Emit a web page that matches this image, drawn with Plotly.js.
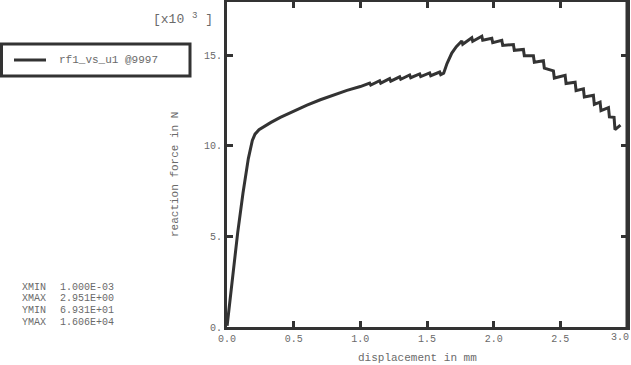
<!DOCTYPE html>
<html>
<head>
<meta charset="utf-8">
<script src="https://cdn.plot.ly/plotly-3.0.1.min.js"></script>
<style>
html,body{margin:0;padding:0;background:#fff;}
#chart{width:631px;height:365px;}
</style>
</head>
<body>
<div id="chart"></div>
<script>
// displacement (mm)
var displacement = [0.001, 0.04, 0.08, 0.12, 0.16, 0.19, 0.21, 0.24, 0.28, 0.33, 0.40, 0.50, 0.60, 0.70, 0.80, 0.90, 1.00, 1.05,
  1.07, 1.078, 1.145, 1.153, 1.22, 1.228, 1.295, 1.303, 1.37, 1.378, 1.445, 1.453, 1.52, 1.528, 1.595, 1.603,
  1.625, 1.65, 1.686, 1.72,
  1.761, 1.768, 1.836, 1.843, 1.911, 1.918, 1.986, 1.993, 2.061, 2.068, 2.148, 2.155, 2.223, 2.230,
  2.298, 2.305, 2.373, 2.380, 2.448, 2.455, 2.536, 2.543, 2.611, 2.618, 2.673, 2.680, 2.748, 2.755,
  2.798, 2.805, 2.861, 2.868, 2.903, 2.910, 2.951];
// reaction force (x10^3 N)
var reactionForce = [0.069, 2.6, 5.2, 7.4, 9.3, 10.3, 10.65, 10.9, 11.1, 11.3, 11.58, 11.93, 12.25, 12.55, 12.82, 13.07, 13.28, 13.40,
  13.47, 13.36, 13.60, 13.47, 13.72, 13.58, 13.82, 13.68, 13.92, 13.77, 13.98, 13.83, 14.03, 13.88, 14.08, 13.94,
  14.02, 14.55, 15.13, 15.48,
  15.80, 15.62, 15.98, 15.78, 16.06, 15.84, 15.95, 15.70, 15.83, 15.55, 15.60, 15.28, 15.33, 14.98,
  14.98, 14.62, 14.70, 14.30, 14.15, 13.75, 13.90, 13.45, 13.52, 13.05, 13.15, 12.70, 12.80, 12.30,
  12.42, 11.95, 12.12, 11.60, 11.58, 10.90, 11.15];

var xTickVals = [0, 0.5, 1.0, 1.5, 2.0, 2.5, 3.0];
var xTickText = ["0.0", "0.5", "1.0", "1.5", "2.0", "2.5", "3.0"];
var yTickVals = [0, 5, 10, 15];
var yTickText = ["0.", "5.", "10.", "15."];

var legendLabel = "rf1_vs_u1 @9997";
var statLabels = ["XMIN", "XMAX", "YMIN", "YMAX"];
var statValues = ["1.000E-03", "2.951E+00", "6.931E+01", "1.606E+04"];

var W = 631, H = 365, L = 227, R = 4, T = 2, B = 38;
var pw = W - L - R, ph = H - T - B;
function px(x){ return (x - L) / pw; }
function py(y){ return (H - B - y) / ph; }

var mono = "Liberation Mono, Courier New, monospace";
var txtColor = "#6a6a6a";
var dark = "#333333";

var trace = {
  x: displacement, y: reactionForce, type: "scatter", mode: "lines",
  line: {color: dark, width: 3}, showlegend: false, hoverinfo: "skip"
};

// the last x tick label sits at the right edge of the page; draw it as an annotation on the axis
var lastIdx = xTickVals.length - 1;
var axisTickText = xTickText.slice(0, lastIdx);
var axisTickVals = xTickVals.slice(0, lastIdx);

var annotations = [
  {xref:"x", yref:"paper", x:xTickVals[lastIdx], y:0, xanchor:"right", yanchor:"top", yshift:-3, xshift:4,
   showarrow:false, text:xTickText[lastIdx], font:{family:mono, size:10, color:txtColor}},
  {xref:"paper", yref:"paper", x:px(151), y:py(19), xanchor:"left", yanchor:"middle", showarrow:false,
   text:"[x10 <sup>3</sup> ]", font:{family:mono, size:13, color:txtColor}},
  {xref:"paper", yref:"paper", x:px(57), y:py(60), xanchor:"left", yanchor:"middle", showarrow:false,
   text:legendLabel, font:{family:mono, size:11, color:txtColor}},
  {xref:"paper", yref:"paper", x:px(417), y:py(358), xanchor:"center", yanchor:"middle", showarrow:false,
   text:"displacement in mm", font:{family:mono, size:11, color:txtColor}},
  {xref:"paper", yref:"paper", x:px(175), y:py(175), xanchor:"center", yanchor:"middle", showarrow:false,
   textangle:-90, text:"reaction force in N", font:{family:mono, size:11, color:txtColor}}
];
var statY = [287, 298, 310, 322];
for (var i = 0; i < statLabels.length; i++) {
  annotations.push({xref:"paper", yref:"paper", x:px(20), y:py(statY[i]), xanchor:"left", yanchor:"middle",
    showarrow:false, text:statLabels[i], font:{family:mono, size:10, color:txtColor}});
  annotations.push({xref:"paper", yref:"paper", x:px(58), y:py(statY[i]), xanchor:"left", yanchor:"middle",
    showarrow:false, text:statValues[i], font:{family:mono, size:10, color:txtColor}});
}

var shapes = [
  {type:"rect", xref:"paper", yref:"paper", x0:px(1.5), x1:px(190), y0:py(76), y1:py(44),
   line:{color:dark, width:3}, fillcolor:"rgba(0,0,0,0)"},
  {type:"line", xref:"paper", yref:"paper", x0:px(14), x1:px(46), y0:py(60), y1:py(60),
   line:{color:dark, width:3}},
  {type:"line", xref:"x", yref:"paper", x0:xTickVals[lastIdx], x1:xTickVals[lastIdx], y0:0, y1:1,
   line:{color:dark, width:3}}
];

var layout = {
  width: W, height: H,
  margin: {l: L, r: R, t: T, b: B, pad: 0},
  paper_bgcolor: "#ffffff", plot_bgcolor: "#ffffff",
  xaxis: {
    range: [0, 3.0], tickmode: "array", tickvals: axisTickVals, ticktext: axisTickText,
    ticks: "inside", ticklen: 6, tickwidth: 3, tickcolor: dark,
    showline: true, linecolor: dark, linewidth: 3, mirror: "ticks",
    showgrid: false, zeroline: false,
    tickfont: {family: mono, size: 10, color: txtColor}
  },
  yaxis: {
    range: [0, 17.95], tickmode: "array", tickvals: yTickVals, ticktext: yTickText,
    ticks: "inside", ticklen: 6, tickwidth: 3, tickcolor: dark,
    showline: true, linecolor: dark, linewidth: 3, mirror: "ticks",
    showgrid: false, zeroline: false,
    tickfont: {family: mono, size: 10, color: txtColor}
  },
  annotations: annotations,
  shapes: shapes,
  showlegend: false
};

Plotly.newPlot("chart", [trace], layout, {displayModeBar: false, staticPlot: true});
</script>
</body>
</html>
